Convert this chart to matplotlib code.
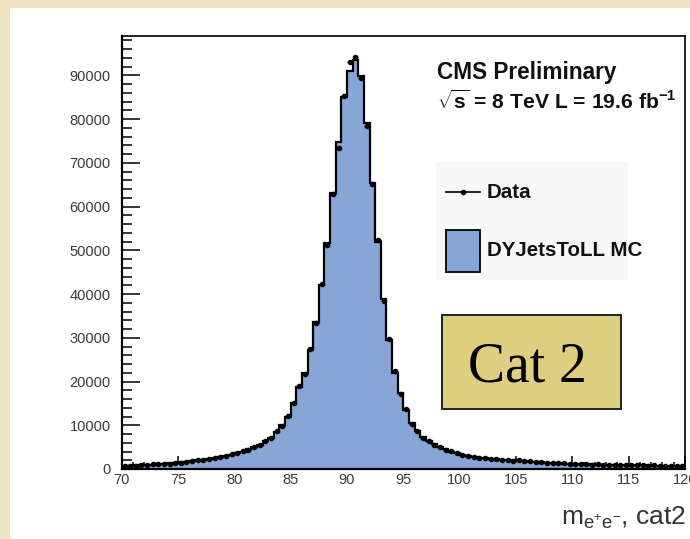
import numpy as np
import matplotlib
matplotlib.use("Agg")
import matplotlib.pyplot as plt
from matplotlib.patches import Rectangle
from matplotlib.lines import Line2D

plt.rcParams['font.family'] = ['Liberation Sans', 'DejaVu Sans']
plt.rcParams['mathtext.fontset'] = 'custom'
plt.rcParams['mathtext.rm'] = 'Liberation Sans'
plt.rcParams['mathtext.bf'] = 'Liberation Sans:bold'
plt.rcParams['mathtext.it'] = 'Liberation Sans:italic'

# ---- data (0.5 GeV bins from 70 to 120) ----
x_min, x_max, n_bins = 70, 120, 100
mc_counts = [
    700, 760, 820, 880, 950, 1020, 1100, 1180, 1270, 1380,
    1500, 1650, 1800, 1950, 2100, 2300, 2500, 2800, 3000, 3300,
    3600, 4000, 4500, 5000, 5600, 6300, 7100, 8500, 10000, 12000,
    15100, 18800, 22000, 27200, 33500, 42000, 51600, 63100, 74700, 85000,
    91100, 93400, 89900, 79000, 65500, 52000, 38800, 29500, 22000, 17400,
    13500, 10500, 8600, 7300, 6400, 5700, 5000, 4500, 4000, 3600,
    3200, 3000, 2800, 2600, 2450, 2300, 2200, 2100, 2000, 1950,
    1900, 1800, 1700, 1600, 1500, 1450, 1380, 1300, 1250, 1200,
    1150, 1120, 1080, 1050, 1000, 980, 960, 940, 920, 900,
    880, 860, 840, 820, 800, 780, 760, 740, 720, 700,
]
data_counts = [
    650, 800, 780, 900, 930, 1050, 1080, 1210, 1250, 1400,
    1480, 1700, 1780, 2000, 2150, 2280, 2550, 2750, 3050, 3350,
    3650, 4050, 4450, 5100, 5550, 6400, 7050, 8600, 9900, 12100,
    15000, 18900, 21800, 27400, 33300, 42300, 51200, 62800, 73500, 85300,
    93000, 94200, 89500, 78500, 65200, 52300, 38500, 29800, 22300, 17200,
    13700, 10400, 8700, 7200, 6500, 5600, 5100, 4400, 4100, 3550,
    3250, 2950, 2850, 2550, 2500, 2250, 2250, 2050, 2050, 1900,
    1950, 1750, 1750, 1550, 1550, 1400, 1420, 1280, 1300, 1150,
    1200, 1080, 1120, 1000, 1050, 950, 1000, 900, 960, 870,
    920, 830, 870, 790, 830, 750, 790, 720, 740, 680,
]
x_ticks = [70, 75, 80, 85, 90, 95, 100, 105, 110, 115, 120]
y_ticks = [0, 10000, 20000, 30000, 40000, 50000, 60000, 70000, 80000, 90000]

W, H = 690, 539
fig = plt.figure(figsize=(W / 100, H / 100), dpi=100)
fig.patch.set_facecolor('#F0E3BF')

def fx(x):
    return x / W

def fy(y):
    return 1 - y / H

# white panel
fig.patches.append(Rectangle((fx(10), 0), 1 - fx(10), fy(8), transform=fig.transFigure,
                             facecolor='white', edgecolor='none', zorder=-5))

ax = fig.add_axes([fx(121.7), fy(469), fx(685) - fx(121.7), fy(36) - fy(469)])
ax.set_zorder(1)
ax.set_facecolor('white')

edges = np.linspace(x_min, x_max, n_bins + 1)
centers = 0.5 * (edges[:-1] + edges[1:])
mc = np.array(mc_counts, dtype=float)
dt = np.array(data_counts, dtype=float)

blue = '#87A6D6'
ax.stairs(mc, edges, fill=True, color=blue, zorder=2)
ax.stairs(mc, edges, fill=False, color='black', linewidth=1.6, zorder=3)
ax.errorbar(centers, dt, xerr=0.25, yerr=np.sqrt(dt), fmt='o', ms=3, color='black',
            elinewidth=1.0, capsize=0, zorder=4, clip_on=False)

ax.set_xlim(x_min, x_max)
ax.set_ylim(0, 99000)
ax.set_xticks(x_ticks)
ax.set_xticklabels([str(t) for t in x_ticks])
ax.set_yticks(y_ticks)
ax.set_yticklabels([str(t) for t in y_ticks])
ax.set_xticks(np.arange(70, 121, 1), minor=True)
ax.set_yticks(np.arange(0, 99000, 2000), minor=True)
ax.tick_params(axis='both', which='both', direction='in', top=False, right=False,
               width=1.1, colors='black', labelcolor='#3a3a3a', labelsize=10.5)
ax.tick_params(axis='y', which='major', length=13, pad=8)
ax.tick_params(axis='y', which='minor', length=7)
ax.tick_params(axis='x', which='major', length=9.5, pad=3)
ax.tick_params(axis='x', which='minor', length=5)
for s in ax.spines.values():
    s.set_linewidth(1.2)
    s.set_color('black')
    s.set_zorder(5)
ax.spines['left'].set_linewidth(1.6)
ax.spines['bottom'].set_linewidth(1.6)

# CMS text
fig.text(fx(437), fy(73), 'CMS Preliminary', fontsize=16.3, fontweight='bold',
         ha='left', va='center', color='#111111', zorder=7)
fig.text(fx(437), fy(101), r'$\sqrt{\mathbf{s}}$ = 8 TeV L = 19.6 fb$^{\mathbf{-1}}$',
         fontsize=15.2, fontweight='bold', ha='left', va='center', color='#111111', zorder=7)

# legend (manual)
fig.patches.append(Rectangle((fx(436), fy(280)), fx(628) - fx(436), fy(162) - fy(280),
                             transform=fig.transFigure, facecolor='#F8F8F8',
                             edgecolor='none', zorder=6))
fig.lines.append(Line2D([fx(446), fx(480)], [fy(192), fy(192)], transform=fig.transFigure,
                        color='black', linewidth=1.2, zorder=7))
fig.lines.append(Line2D([fx(463)], [fy(192)], transform=fig.transFigure, marker='o', ms=3,
                        color='black', zorder=7))
fig.text(fx(487), fy(192), 'Data', fontsize=14.8, fontweight='bold', ha='left', va='center',
         color='#111111', zorder=7)
fig.patches.append(Rectangle((fx(446), fy(271.5)), fx(480) - fx(446), fy(230) - fy(271.5),
                             transform=fig.transFigure, facecolor=blue, edgecolor='black',
                             linewidth=1.3, zorder=7))
fig.text(fx(487), fy(251), 'DYJetsToLL MC', fontsize=14.8, fontweight='bold', ha='left',
         va='center', color='#111111', zorder=7)

# Cat 2 box
fig.patches.append(Rectangle((fx(441.7), fy(409)), fx(620.7) - fx(441.7), fy(315) - fy(409),
                             transform=fig.transFigure, facecolor='#DECE80', edgecolor='#222222',
                             linewidth=1.4, zorder=7))
fig.text(fx(527), fy(367), 'Cat 2', fontsize=40, family=['Liberation Serif', 'DejaVu Serif'],
         ha='center', va='center', color='black', zorder=8)

# x-axis title
fig.text(fx(686), fy(518), r'm$_{\mathrm{e^{+}e^{-}}}$, cat2', fontsize=19, ha='right',
         va='center', color='#333333', zorder=7)

fig.savefig('out.png', dpi=100, facecolor=fig.get_facecolor())
